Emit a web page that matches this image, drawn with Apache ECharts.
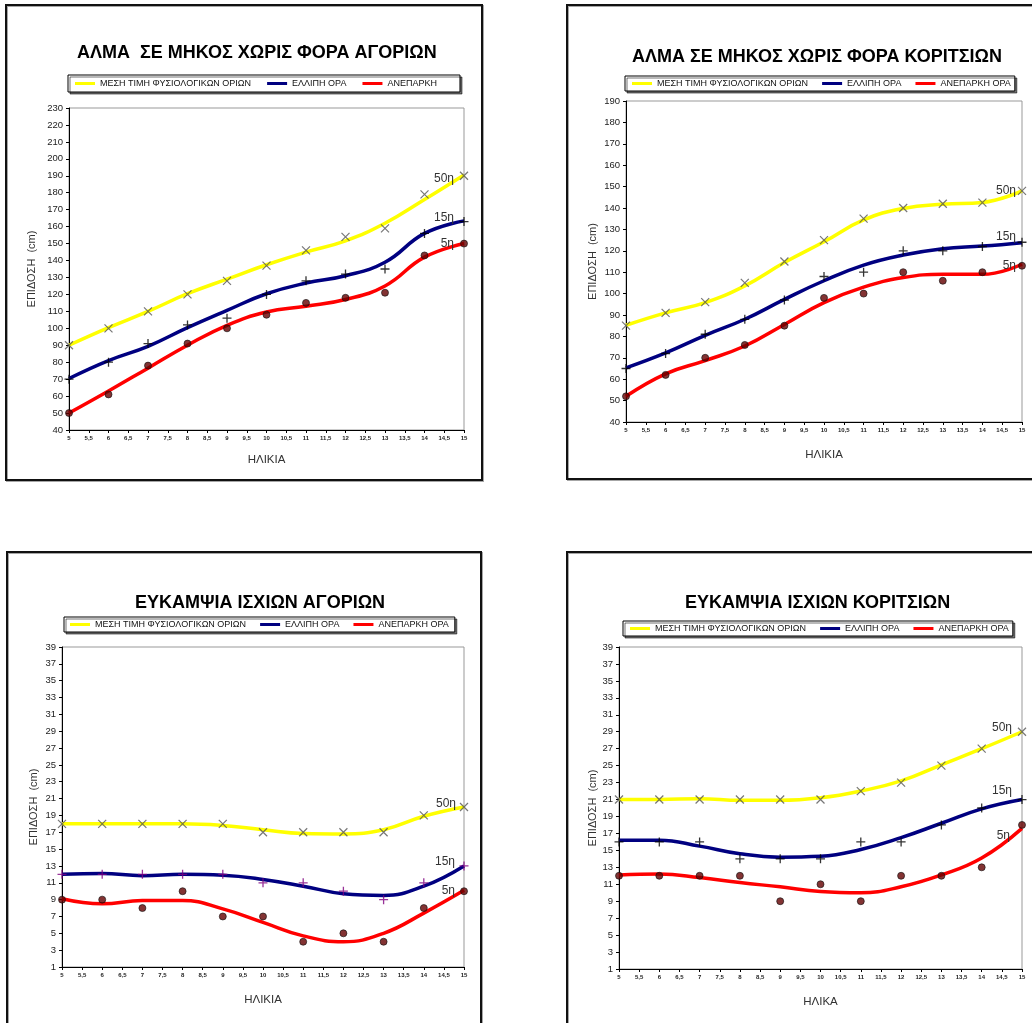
<!DOCTYPE html>
<html>
<head>
<meta charset="utf-8">
<script src="https://cdn.jsdelivr.net/npm/echarts@6/dist/echarts.min.js"></script>
<style>
  html, body { margin: 0; padding: 0; background: #fff; }
  #chart { width: 1032px; height: 1023px; }
</style>
</head>
<body>
<div id="chart"></div>
<script>
// Ages on the horizontal axis (years)
const ages = [5, 6, 7, 8, 9, 10, 11, 12, 13, 14, 15];

// Vertical tick labels
const jumpBoysTicks = [40, 50, 60, 70, 80, 90, 100, 110, 120, 130, 140, 150, 160, 170, 180, 190, 200, 210, 220, 230];
const jumpGirlsTicks = [40, 50, 60, 70, 80, 90, 100, 110, 120, 130, 140, 150, 160, 170, 180, 190];
const hipTicks = [1, 3, 5, 7, 9, 11, 13, 15, 17, 19, 21, 23, 25, 27, 29, 31, 33, 35, 37, 39];

// Legend names and percentile tags
const nameMean = 'ΜΕΣΗ ΤΙΜΗ ΦΥΣΙΟΛΟΓΙΚΩΝ ΟΡΙΩΝ';
const nameLow = 'ΕΛΛΙΠΗ ΟΡΑ';
const namePoorBoysJump = 'ΑΝΕΠΑΡΚΗ';
const namePoor = 'ΑΝΕΠΑΡΚΗ ΟΡΑ';
const tags = ['50η', '15η', '5η'];

// Standing long jump, boys (cm): measured percentiles and smoothed curves
const boysJumpP50Pts = [90, 100, 110, 120, 128, 137, 146, 154, 159, 179, 190];
const boysJumpP15Pts = [70, 80, 91, 102, 106, 120, 128, 132, 135, 156, 163];
const boysJumpP5Pts  = [50, 61, 78, 91, 100, 108, 115, 118, 121, 143, 150];
const boysJumpP50Curve = [90, 100.4, 110, 120.4, 129, 137.5, 145, 151.6, 162, 176, 190.5];
const boysJumpP15Curve = [70.4, 81, 89.4, 100.4, 110.6, 120.4, 126.7, 131, 139, 156, 163.4];
const boysJumpP5Curve  = [50, 63, 76.5, 90, 101.8, 109.6, 113, 117, 125, 142, 150];

// Standing long jump, girls (cm)
const girlsJumpP50Pts = [85, 91, 96, 105, 115, 125, 135, 140, 142, 142.5, 148];
const girlsJumpP15Pts = [65, 72, 81, 88, 97, 108, 110, 120, 120, 122, 124];
const girlsJumpP5Pts  = [52, 62, 70, 76, 85, 98, 100, 110, 106, 110, 113];
const girlsJumpP50Curve = [85.2, 91, 95.8, 103.6, 114.5, 124.2, 134.4, 139.8, 141.8, 142.6, 148];
const girlsJumpP15Curve = [65.3, 72.3, 80.5, 88, 97.3, 106, 113.3, 118, 121, 122.2, 123.8];
const girlsJumpP5Curve  = [52, 62.5, 68.7, 75.5, 85.6, 95.8, 103, 107.5, 109, 109, 113.7];

// Hip flexibility, boys (cm)
const boysHipP50Pts = [18, 18, 18, 18, 18, 17, 17, 17, 17, 19, 20];
const boysHipP15Pts = [12, 12, 12, 12, 12, 11, 11, 10, 9, 11, 13];
const boysHipP5Pts  = [9, 9, 8, 10, 7, 7, 4, 5, 4, 8, 10];
const boysHipP50Curve = [18, 18, 18, 18, 17.8, 17.3, 16.85, 16.8, 17.3, 18.9, 20];
const boysHipP15Curve = [12, 12.1, 11.85, 12, 11.9, 11.4, 10.6, 9.7, 9.5, 10.6, 13];
const boysHipP5Curve  = [9.1, 8.5, 8.9, 8.9, 7.9, 6.3, 4.7, 4.0, 5.0, 7.4, 10.1];

// Hip flexibility, girls (cm)
const girlsHipP50Pts = [21, 21, 21, 21, 21, 21, 22, 23, 25, 27, 29];
const girlsHipP15Pts = [16, 16, 16, 14, 14, 14, 16, 16, 18, 20, 21];
const girlsHipP5Pts  = [12, 12, 12, 12, 9, 11, 9, 12, 12, 13, 18];
const girlsHipP50Curve = [21, 21, 21.1, 20.9, 20.9, 21.2, 22, 23.2, 25.1, 27, 29];
const girlsHipP15Curve = [16.2, 16.2, 15.5, 14.6, 14.2, 14.3, 15.1, 16.5, 18.2, 19.9, 21];
const girlsHipP5Curve  = [12.1, 12.2, 11.8, 11.2, 10.7, 10.15, 10.0, 10.7, 12.1, 14.1, 17.6];

const FONT = '"Liberation Sans", Arial, sans-serif';
const COLORS = ['#FFFF00', '#000080', '#FF0000'];

const crossSymbol = 'path://M0,0L10,10M10,0L0,10';
const plusSymbol = 'path://M5,0L5,10M0,5L10,5';

const panels = [
  {
    title: 'ΑΛΜΑ  ΣΕ ΜΗΚΟΣ ΧΩΡΙΣ ΦΟΡΑ ΑΓΟΡΙΩΝ', titlePos: [77, 44],
    grid: { left: 69, top: 108, width: 395, height: 322 },
    yRange: [40, 230], yTicks: jumpBoysTicks, yNameGap: 32, xName: 'ΗΛΙΚΙΑ', xNameGap: 24,
    legendPos: [68, 75], legendNames: [nameMean, nameLow, namePoorBoysJump],
    legendGap: 16, legendPad: [3, 23, 3, 7],
    curves: [boysJumpP50Curve, boysJumpP15Curve, boysJumpP5Curve],
    points: [boysJumpP50Pts, boysJumpP15Pts, boysJumpP5Pts],
    plusColor: '#000',
    tagOffsets: [[-8, 4], [-8, -3], [-8, 0]]
  },
  {
    title: 'ΑΛΜΑ ΣΕ ΜΗΚΟΣ ΧΩΡΙΣ ΦΟΡΑ ΚΟΡΙΤΣΙΩΝ', titlePos: [632, 48],
    grid: { left: 626, top: 101, width: 396, height: 321 },
    yRange: [40, 190], yTicks: jumpGirlsTicks, yNameGap: 28, xName: 'ΗΛΙΚΙΑ', xNameGap: 27,
    legendPos: [625, 76], legendNames: [nameMean, nameLow, namePoor],
    legendGap: 14, legendPad: [2, 4, 2, 7],
    curves: [girlsJumpP50Curve, girlsJumpP15Curve, girlsJumpP5Curve],
    points: [girlsJumpP50Pts, girlsJumpP15Pts, girlsJumpP5Pts],
    plusColor: '#000',
    tagOffsets: [[-4, 0], [-4, -6], [-4, 1]]
  },
  {
    title: 'ΕΥΚΑΜΨΙΑ ΙΣΧΙΩΝ ΑΓΟΡΙΩΝ', titlePos: [135, 594],
    grid: { left: 62, top: 647, width: 402, height: 320 },
    yRange: [1, 39], yTicks: hipTicks, yNameGap: 23, xName: 'ΗΛΙΚΙΑ', xNameGap: 27,
    legendPos: [64, 617], legendNames: [nameMean, nameLow, namePoor],
    legendGap: 14, legendPad: [2, 6, 2, 6],
    curves: [boysHipP50Curve, boysHipP15Curve, boysHipP5Curve],
    points: [boysHipP50Pts, boysHipP15Pts, boysHipP5Pts],
    plusColor: '#800080',
    tagOffsets: [[-6, -3], [-7, -4], [-7, 0]]
  },
  {
    title: 'ΕΥΚΑΜΨΙΑ ΙΣΧΙΩΝ ΚΟΡΙΤΣΙΩΝ', titlePos: [685, 594],
    grid: { left: 619, top: 647, width: 403, height: 322 },
    yRange: [1, 39], yTicks: hipTicks, yNameGap: 21, xName: 'ΗΛΙΚΑ', xNameGap: 27,
    legendPos: [623, 621], legendNames: [nameMean, nameLow, namePoor],
    legendGap: 14, legendPad: [2, 4, 2, 7],
    curves: [girlsHipP50Curve, girlsHipP15Curve, girlsHipP5Curve],
    points: [girlsHipP50Pts, girlsHipP15Pts, girlsHipP5Pts],
    plusColor: '#000',
    tagOffsets: [[-8, -4], [-8, -9], [-10, 7]]
  }
];

function pairs(vals) {
  return ages.map((a, i) => [a, vals[i]]);
}

function curveData(vals, tag, offset) {
  const d = pairs(vals);
  const last = d.length - 1;
  d[last] = {
    value: d[last],
    label: {
      show: true, formatter: tag, position: 'left', distance: 2, offset: offset,
      fontSize: 12, fontFamily: FONT, color: '#333'
    }
  };
  return d;
}

const frameStyle = { fill: 'none', stroke: '#111', lineWidth: 2, shadowColor: 'rgba(0,0,0,0.35)', shadowOffsetX: 1, shadowOffsetY: 1 };

const option = {
  backgroundColor: '#fff',
  animation: false,
  textStyle: { fontFamily: FONT },
  title: [], legend: [], grid: [], xAxis: [], yAxis: [], series: [],
  graphic: [
    { type: 'rect', shape: { x: 6, y: 5, width: 476, height: 475 }, style: frameStyle, silent: true },
    { type: 'rect', shape: { x: 567, y: 5, width: 480, height: 474 }, style: frameStyle, silent: true },
    { type: 'rect', shape: { x: 7, y: 552, width: 474, height: 490 }, style: frameStyle, silent: true },
    { type: 'rect', shape: { x: 567, y: 552, width: 480, height: 490 }, style: frameStyle, silent: true }
  ]
};

panels.forEach((p, k) => {
  option.title.push({
    text: p.title, left: p.titlePos[0], top: p.titlePos[1], padding: 0,
    textStyle: { fontSize: 18, fontWeight: 'bold', color: '#000', fontFamily: FONT }
  });
  option.legend.push({
    data: p.legendNames, left: p.legendPos[0], top: p.legendPos[1],
    icon: 'rect', itemWidth: 20, itemHeight: 3, itemGap: p.legendGap,
    selectedMode: false, padding: p.legendPad,
    borderColor: '#000', borderWidth: 1, backgroundColor: '#fff',
    shadowColor: 'rgba(0,0,0,0.55)', shadowOffsetX: 2, shadowOffsetY: 2, shadowBlur: 0,
    textStyle: { fontSize: 9, color: '#111', fontFamily: FONT, lineHeight: 11 }
  });
  option.grid.push(Object.assign({
    show: true, borderColor: '#999', borderWidth: 1, backgroundColor: '#fff', containLabel: false
  }, p.grid));
  option.xAxis.push({
    type: 'value', gridIndex: k, min: 5, max: 15, interval: 0.5,
    name: p.xName, nameLocation: 'middle', nameGap: p.xNameGap,
    nameTextStyle: { fontSize: 11.5, color: '#333', fontFamily: FONT },
    axisLine: { show: true, lineStyle: { color: '#000', width: 1 } },
    axisTick: { show: true, length: 3, lineStyle: { color: '#000' } },
    axisLabel: {
      fontSize: 6, color: '#222', margin: 5, fontWeight: 'bold',
      formatter: v => String(v).replace('.', ',')
    },
    splitLine: { show: false }
  });
  option.yAxis.push({
    type: 'value', gridIndex: k, min: p.yRange[0], max: p.yRange[1],
    name: 'ΕΠΙΔΟΣΗ  (cm)', nameLocation: 'middle', nameGap: p.yNameGap, nameRotate: 90,
    nameTextStyle: { fontSize: 11, color: '#333', fontFamily: FONT },
    axisLine: { show: true, lineStyle: { color: '#000', width: 1 } },
    axisTick: { show: true, length: 3, lineStyle: { color: '#000' }, customValues: p.yTicks },
    axisLabel: { fontSize: 9.5, color: '#222', margin: 6, customValues: p.yTicks },
    splitLine: { show: false }
  });

  // smoothed percentile curves
  p.curves.forEach((vals, j) => {
    option.series.push({
      type: 'line', name: p.legendNames[j], xAxisIndex: k, yAxisIndex: k,
      data: curveData(vals, tags[j], p.tagOffsets[j]),
      smooth: 0.45, symbol: 'circle', symbolSize: 0, showSymbol: true,
      lineStyle: { color: COLORS[j], width: 3.5 },
      itemStyle: { color: COLORS[j] },
      label: { show: false },
      emphasis: { disabled: true }, silent: true, z: 2
    });
  });

  // measured values
  option.series.push({
    type: 'scatter', name: 'p50 ' + k, xAxisIndex: k, yAxisIndex: k,
    data: pairs(p.points[0]), symbol: crossSymbol, symbolSize: 8,
    itemStyle: { color: 'transparent', borderColor: '#555', borderWidth: 1.2 }, silent: true, z: 3
  });
  option.series.push({
    type: 'scatter', name: 'p15 ' + k, xAxisIndex: k, yAxisIndex: k,
    data: pairs(p.points[1]), symbol: plusSymbol, symbolSize: 9,
    itemStyle: { color: 'transparent', borderColor: p.plusColor, borderWidth: 1.3 }, silent: true, z: 3
  });
  option.series.push({
    type: 'scatter', name: 'p5 ' + k, xAxisIndex: k, yAxisIndex: k,
    data: pairs(p.points[2]), symbol: 'circle', symbolSize: 7,
    itemStyle: { color: '#640000', borderColor: '#111', borderWidth: 0.8 }, silent: true, z: 3
  });
});

const chart = echarts.init(document.getElementById('chart'), null, { renderer: 'canvas' });
chart.setOption(option);
</script>
</body>
</html>
